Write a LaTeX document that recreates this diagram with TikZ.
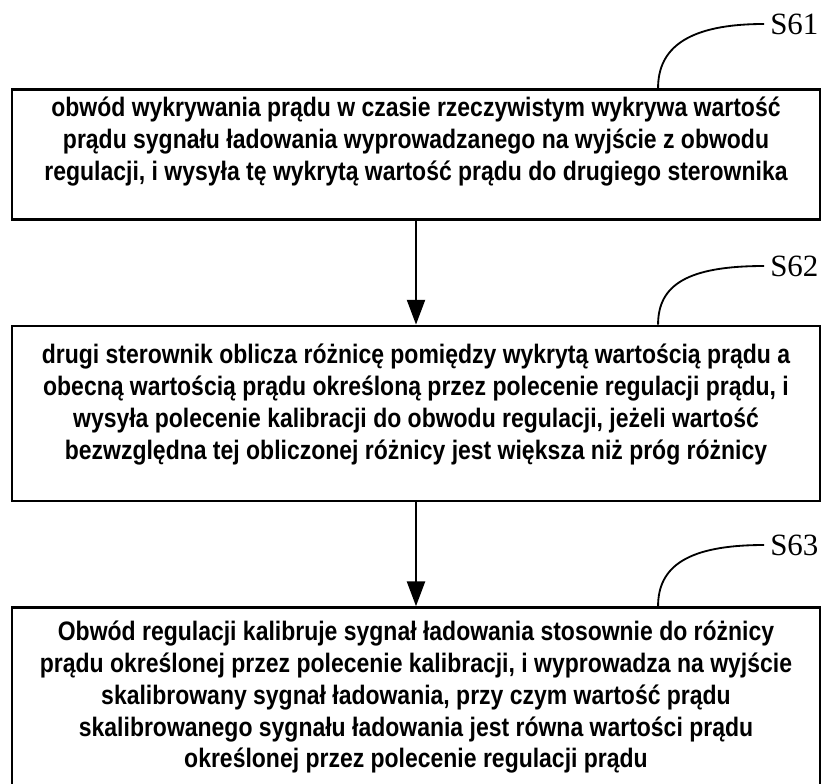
\documentclass[tikz,border=0pt]{standalone}
\usepackage{fontspec}
\setmainfont{Liberation Sans}
\newfontfamily\stepfont{Liberation Sans}[FakeStretch = 0.86]
\newfontfamily\labelfont{Liberation Serif}
\usetikzlibrary{positioning, arrows.meta}
\tikzset{
  stepbox/.style = {draw, line width = 1.8pt, inner sep = 0pt,
    font = \fontsize{19}{22.7}\selectfont\stepfont\bfseries},
  steplabel/.style = {anchor = west, inner sep = 0pt,
    font = \fontsize{22}{24}\selectfont\labelfont},
  flow/.style = {line width = 1.6pt, -{Triangle[length = 0.62cm, width = 0.45cm]}},
  hook/.style = {line width = 1.3pt}
}
\begin{document}
\begin{tikzpicture}[x = 0.025cm, y = -0.025cm]
  \useasboundingbox (0, 0) rectangle (832, 783);
  % steps
  \node[stepbox, anchor = north] (s61box) at (416, 88) {\parbox[t][3.25cm][t]{20.2cm}{\centering\vspace{0.2cm}
    obwód wykrywania prądu w czasie rzeczywistym wykrywa wartość\\
    prądu sygnału ładowania wyprowadzanego na wyjście z obwodu\\
    regulacji, i wysyła tę wykrytą wartość prądu do drugiego sterownika}};
  \node[stepbox, below = 2.6cm of s61box] (s62box) {\parbox[t][4.375cm][t]{20.2cm}{\centering\vspace{0.45cm}
    drugi sterownik oblicza różnicę pomiędzy wykrytą wartością prądu a\\
    obecną wartością prądu określoną przez polecenie regulacji prądu, i\\
    wysyła polecenie kalibracji do obwodu regulacji, jeżeli wartość\\
    bezwzględna tej obliczonej różnicy jest większa niż próg różnicy}};
  \node[stepbox, below = 2.6cm of s62box] (s63box) {\parbox[t][4.475cm][t]{20.2cm}{\centering\vspace{0.33cm}
    Obwód regulacji kalibruje sygnał ładowania stosownie do różnicy\\
    prądu określonej przez polecenie kalibracji, i wyprowadza na wyjście\\
    skalibrowany sygnał ładowania, przy czym wartość prądu\\
    skalibrowanego sygnału ładowania jest równa wartości prądu\\
    określonej przez polecenie regulacji prądu}};
  % flow
  \draw[flow] (s61box) -- (s62box);
  \draw[flow] (s62box) -- (s63box);
  % step labels
  \node[steplabel] (s61) at (770, 24) {S61};
  \node[steplabel] (s62) at (770, 266) {S62};
  \node[steplabel] (s63) at (770, 545) {S63};
  \draw[hook] ([xshift = 6.05cm]s61box.north) .. controls +(0, 1.0cm) and +(-1.9cm, 0) .. ([xshift = -0.15cm]s61.west);
  \draw[hook] ([xshift = 6.05cm]s62box.north) .. controls +(0, 1.0cm) and +(-1.9cm, 0) .. ([xshift = -0.15cm]s62.west);
  \draw[hook] ([xshift = 6.05cm]s63box.north) .. controls +(0, 1.0cm) and +(-1.9cm, 0) .. ([xshift = -0.15cm]s63.west);
\end{tikzpicture}
\end{document}
